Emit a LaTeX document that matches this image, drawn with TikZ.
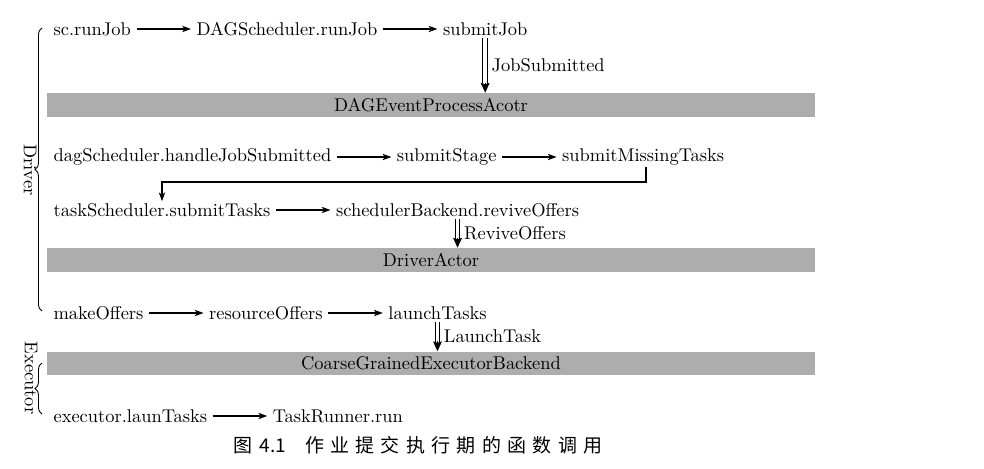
\documentclass[tikz,border=0pt]{standalone}
\usepackage{fontspec}
\newfontfamily\cjk{Noto Sans CJK SC}
\usetikzlibrary{arrows.meta,positioning,decorations.pathreplacing,calc}
\newcommand\cjksp{\kern3.6pt}
\begin{document}
\begin{tikzpicture}[x=0.02cm,y=-0.02cm,
  fn/.style={inner xsep=3pt, inner ysep=1pt, font=\fontsize{10.5}{12}\selectfont},
  call/.style={-{Stealth[length=5pt,width=3.6pt,inset=1.3pt]}, line width=0.6pt},
  msg/.style={double, double distance=2.1pt, line width=0.6pt, shorten >=3.5pt},
  msgtip/.style={-{Stealth[length=5.5pt,width=5pt,inset=0.8pt]}, line width=0.5pt},
  bar/.style={fill=black!32, minimum width=15.36cm, minimum height=0.48cm, inner sep=0pt, font=\fontsize{10.5}{12}\selectfont},
  bracebar/.style={decorate, decoration={brace, amplitude=4pt}, line width=0.5pt},
  side/.style={rotate=-90, inner sep=0pt, font=\fontsize{10.5}{12}\selectfont},
  gap/.style={right=31pt of #1}
]
\useasboundingbox (0,0) rectangle (984,469);

% row 1
\node[fn, anchor=west] (sc) at (48,29) {sc.runJob};
\node[fn, gap=sc] (dr) {DAGScheduler.runJob};
\node[fn, gap=dr] (sj) {submitJob};
\node[bar] (b1) at (431,105) {DAGEventProcessAcotr};
\draw[call] (sc) -- (dr);
\draw[call] (dr) -- (sj);
\draw[msg] (sj.south) -- (sj.south |- b1.north);
\draw[msgtip] ($(sj.south |- b1.north)+(0,-10)$) -- (sj.south |- b1.north);
\node[fn, anchor=west, xshift=0.5pt] (l1) at ($(sj.south)!0.5!(sj.south |- b1.north)$) {JobSubmitted};

% row 2
\node[fn, anchor=west] (hj) at (48,157) {dagScheduler.handleJobSubmitted};
\node[fn, gap=hj] (ss) {submitStage};
\node[fn, gap=ss] (smt) {submitMissingTasks};
\draw[call] (hj) -- (ss);
\draw[call] (ss) -- (smt);

% row 3
\node[fn, anchor=west] (tst) at (48,210) {taskScheduler.submitTasks};
\node[fn, gap=tst] (ro) {schedulerBackend.reviveOffers};
\draw[call] (tst) -- (ro);
\coordinate (k1) at (646,182);
\coordinate (k2) at (162,182);
\draw[call] (smt.south -| k1) -- (k1) -- (k2) -- (tst.north -| k2);

\node[bar] (b2) at (431,260) {DriverActor};
\draw[msg] (ro.south) -- (ro.south |- b2.north);
\draw[msgtip] ($(ro.south |- b2.north)+(0,-10)$) -- (ro.south |- b2.north);
\node[fn, anchor=west, xshift=0.5pt] (l2) at ($(ro.south)!0.5!(ro.south |- b2.north)$) {ReviveOffers};

% row 4
\node[fn, anchor=west] (mo) at (48,313) {makeOffers};
\node[fn, gap=mo] (rso) {resourceOffers};
\node[fn, gap=rso] (lt) {launchTasks};
\draw[call] (mo) -- (rso);
\draw[call] (rso) -- (lt);

\node[bar] (b3) at (431,363.5) {CoarseGrainedExecutorBackend};
\draw[msg] (lt.south) -- (lt.south |- b3.north);
\draw[msgtip] ($(lt.south |- b3.north)+(0,-10)$) -- (lt.south |- b3.north);
\node[fn, anchor=west, xshift=0.5pt] (l3) at ($(lt.south)!0.5!(lt.south |- b3.north)$) {LaunchTask};

% row 5
\node[fn, anchor=west] (el) at (48,416) {executor.launTasks};
\node[fn, gap=el] (tr) {TaskRunner.run};
\draw[call] (el) -- (tr);

% braces
\coordinate (d1) at (42,311);
\coordinate (d2) at (42,28);
\draw[bracebar] (d1) -- (d2);
\node[side] (drv) at (30,170) {Driver};
\coordinate (e1) at (42,414);
\coordinate (e2) at (42,363);
\draw[bracebar] (e1) -- (e2);
\node[side] (exe) at (31,378) {Executor};

% caption
\node[inner sep=0pt, font=\cjk\fontsize{10.8}{13}\selectfont] (cap) at (418,445)
  {图\kern4pt 4.1\kern1.0em 作\cjksp 业\cjksp 提\cjksp 交\cjksp 执\cjksp 行\cjksp 期\cjksp 的\cjksp 函\cjksp 数\cjksp 调\cjksp 用};
\end{tikzpicture}
\end{document}
